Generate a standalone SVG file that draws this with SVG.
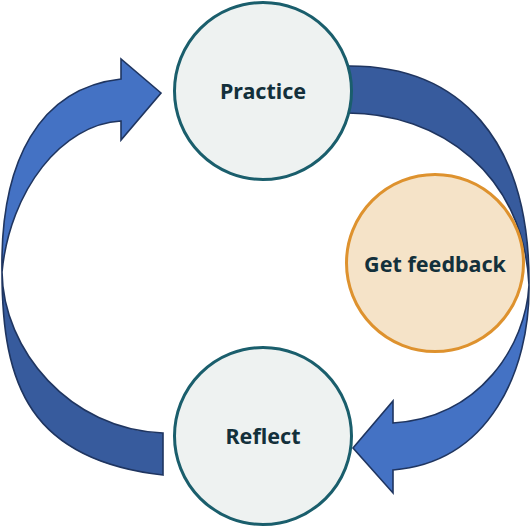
<svg xmlns="http://www.w3.org/2000/svg" width="530" height="528" viewBox="0 0 530 528">
<style>
.head{fill:#4472C4;stroke:#1F3560;stroke-width:1.6;stroke-linejoin:miter}
.tail{fill:#375B9D;stroke:#1F3560;stroke-width:1.6;stroke-linejoin:miter}
.node{fill:#EEF2F1;stroke:#1A5E6C;stroke-width:3}
.fb{fill:#F5E3C8;stroke:#DE922E;stroke-width:3}
.lbl{font-family:"Noto Sans","Open Sans","DejaVu Sans",sans-serif;font-weight:700;font-size:21.5px;fill:#13303B;text-anchor:middle}
</style>
<g id="connectors">
  <g id="arrow-left">
    <path class="tail" d="M163,475 C30,460 2,385 2,272 C3,350 70,430 163,433 Z"/>
    <path class="head" d="M2,272 C0,160 40,88 121,79 L121,59 L161,93 L121,140 L121,121 C62,124 10,190 2,272 Z"/>
  </g>
  <g id="arrow-right">
    <path class="tail" d="M345,66 C460,64 530,140 529,285 C524,175 440,112 345,113 Z"/>
    <path class="head" d="M529,285 C530,370 490,462 393,470 L393,493 L353,448 L393,401 L393,423 C480,418 526,345 529,285 Z"/>
  </g>
</g>
<g id="node-practice">
  <circle class="node" cx="263" cy="91" r="88.5"/>
  <text class="lbl" x="263" y="99">Practice</text>
</g>
<g id="node-feedback">
  <circle class="fb" cx="435" cy="263" r="88.5"/>
  <text class="lbl" x="435" y="271.5">Get feedback</text>
</g>
<g id="node-reflect">
  <circle class="node" cx="263" cy="436" r="88.5"/>
  <text class="lbl" x="263" y="443.5">Reflect</text>
</g>
</svg>
